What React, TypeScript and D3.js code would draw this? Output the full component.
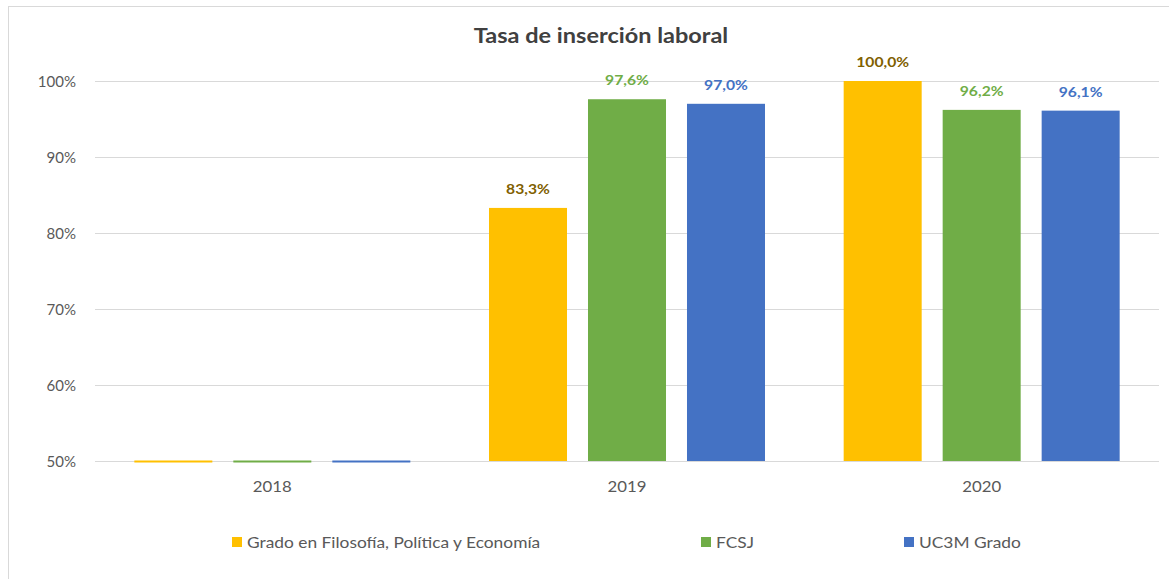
import React from "react";
import * as d3 from "d3";

const title = "Tasa de inserción laboral";
const years = ["2018", "2019", "2020"];
const seriesNames = ["Grado en Filosofía, Política y Economía", "FCSJ", "UC3M Grado"];
const gradoFPE = [0, 83.3, 100.0];
const fcsj = [0, 97.6, 96.2];
const uc3m = [0, 97.0, 96.1];
const yTicks = [50, 60, 70, 80, 90, 100];
const barColors = ["#FFC000", "#70AD47", "#4472C4"];
const labelColors = ["#7F6000", "#70AD47", "#4472C4"];
const legendX = [232, 701, 904];

const W = 1169, H = 579;
const plot = { left: 95, right: 1159, top: 81, bottom: 461 };
const SX = 1.12;

function T(props: { x: number; y: number; anchor?: string; size: number; bold?: boolean; fill: string; sx?: number; children: React.ReactNode }) {
  return (
    <text
      transform={`translate(${props.x},${props.y}) scale(${props.sx ?? SX},1)`}
      textAnchor={props.anchor || "start"}
      fontSize={props.size}
      fontWeight={props.bold ? "bold" : "normal"}
      fill={props.fill}
    >
      {props.children}
    </text>
  );
}

export default function App() {
  const series = [gradoFPE, fcsj, uc3m];
  const x0 = d3.scaleBand<string>().domain(years).range([plot.left, plot.right]).paddingInner(0).paddingOuter(0);
  const groupW = 276;
  const x1 = d3.scaleBand<number>().domain([0, 1, 2]).range([0, groupW]).paddingInner(0.212).paddingOuter(0);
  const y = d3.scaleLinear().domain([50, 100]).range([plot.bottom, plot.top]);
  const fmt = (v: number) => v.toFixed(1).replace(".", ",") + "%";
  const font = "Lato, 'Open Sans', sans-serif";

  return (
    <svg width={W} height={H} style={{ position: "absolute", left: 0, top: 0, background: "#fff" }} fontFamily={font}>
      <rect x={8.5} y={6.5} width={1200} height={600} fill="#fff" stroke="#d9d9d9" strokeWidth={1} />
      <T x={601} y={43} anchor="middle" size={21} bold fill="#404040">{title}</T>
      {yTicks.map((t) => (
        <g key={t}>
          <line x1={plot.left} x2={plot.right} y1={y(t) + 0.5} y2={y(t) + 0.5} stroke="#d9d9d9" strokeWidth={1} />
          <T x={76} y={y(t) + 5.5} anchor="end" size={15} sx={1} fill="#595959">{t}%</T>
        </g>
      ))}
      {years.map((yr, i) => {
        const gx = (x0(yr) as number) + (x0.bandwidth() - groupW) / 2;
        return (
          <g key={yr}>
            {series.map((s, j) => {
              const v = s[i];
              const bx = gx + (x1(j) as number);
              const bw = x1.bandwidth();
              if (v <= 50) {
                return <rect key={j} x={bx} y={y(50) - 0.5} width={bw} height={2} fill={barColors[j]} />;
              }
              return (
                <g key={j}>
                  <rect x={bx} y={y(v)} width={bw} height={y(50) - y(v)} fill={barColors[j]} />
                  <T x={bx + bw / 2} y={y(v) - 14} anchor="middle" size={14} bold fill={labelColors[j]}>{fmt(v)}</T>
                </g>
              );
            })}
            <T x={(x0(yr) as number) + x0.bandwidth() / 2} y={492} anchor="middle" size={15} fill="#595959">{yr}</T>
          </g>
        );
      })}
      {seriesNames.map((n, j) => (
        <g key={n}>
          <rect x={legendX[j]} y={537} width={10} height={10} fill={barColors[j]} />
          <T x={legendX[j] + 15} y={547.5} size={15.5} fill="#595959">{n}</T>
        </g>
      ))}
    </svg>
  );
}
